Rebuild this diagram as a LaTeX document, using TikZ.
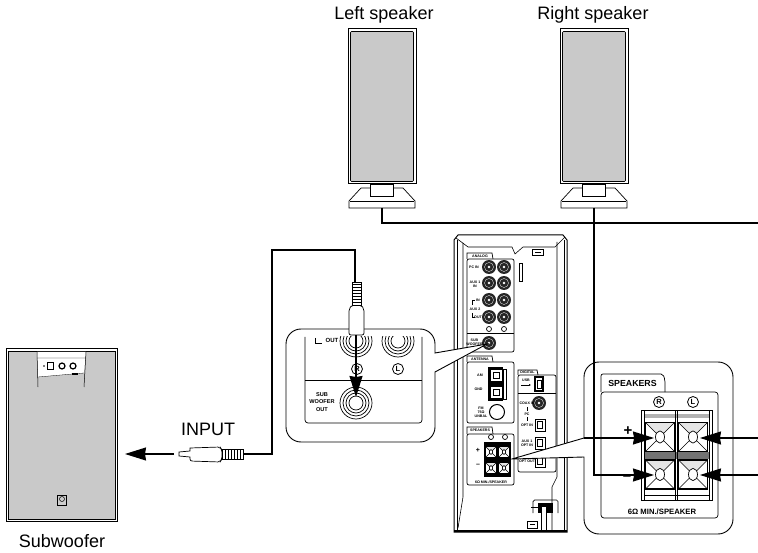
\documentclass[tikz,border=0pt]{standalone}
\usepackage{fontspec}
\setmainfont{Liberation Sans}
\usetikzlibrary{arrows.meta}
\definecolor{panelgray}{gray}{0.79}
\tikzset{
    wire/.style={line width=1.1pt},
    bigtip/.style={-{Stealth[length=21pt,width=13pt,inset=1pt]}},
    label/.style={font=\fontsize{18}{18}\selectfont, inner sep=0pt},
    tinytext/.style={font=\bfseries\fontsize{3.6}{4}\selectfont, inner sep=0pt, align=center},
    smalltext/.style={font=\bfseries\fontsize{5.6}{7.2}\selectfont, inner sep=0pt, align=center},
    outline/.style={line width=0.7pt},
    callout/.style={line width=0.9pt, fill=white},
    circled/.style={draw, circle, line width=0.8pt, minimum size=11pt, inner sep=0pt, font=\bfseries\fontsize{7.5}{7.5}\selectfont},
    cabinet/.style={draw, line width=1pt, fill=white, minimum width=68pt, minimum height=155pt, inner sep=0pt},
    grille/.style={draw, line width=0.6pt, fill=panelgray, rounded corners=1pt, minimum width=63pt, minimum height=150pt, inner sep=0pt}
}
% small socket on the back of the unit
\newcommand{\backjack}[2]{
    \fill[black!85] (#1,#2) circle (7);
    \draw[white, line width=0.3pt] (#1,#2) circle (4.5);
    \fill[white] (#1,#2) circle (1.3);
}
% big socket in the enlarged view
\newcommand{\bigjack}[2]{
    \foreach \r in {16,13,10,7} {\draw[line width=0.7pt] (#1,#2) circle (\r);}
}
% spring terminal: #1,#2 centre, #3 half size
\newcommand{\clipterm}[3]{
    \draw[fill=white, line width=0.5pt] (#1-#3,#2-#3) rectangle (#1+#3,#2+#3);
    \fill[black!10] (#1-#3,#2-#3) -- (#1+#3,#2-#3) -- (#1,#2) -- cycle;
    \draw[line width=0.5pt] (#1-#3,#2-#3) -- (#1+#3,#2+#3) (#1-#3,#2+#3) -- (#1+#3,#2-#3);
    \draw[line width=1.2pt] (#1-#3,#2-#3) rectangle (#1+#3,#2+#3);
    \draw[fill=white, line width=0.7pt] (#1,#2) ellipse (0.31*#3 and 0.42*#3);
}
\newcommand{\optport}[2]{
    \draw[fill=white, line width=0.9pt] (#1-5,#2-6) rectangle (#1+5,#2+6);
    \draw[line width=0.6pt] (#1-2.5,#2-3.5) rectangle (#1+2.5,#2+3.5);
}
\begin{document}
\begin{tikzpicture}[x=1pt,y=-1pt]
    \useasboundingbox (0,0) rectangle (758,553);

    % speakers
    \foreach \name/\xx in {left/382,right/594} {
        \draw[outline, fill=white] (\xx-33,208) -- (\xx-33,201) -- (\xx-21,188) -- (\xx+21,188) -- (\xx+33,201) -- (\xx+33,208) -- cycle;
        \draw[line width=0.4pt] (\xx-32,201) -- (\xx+32,201);
        \draw[outline, fill=white] (\xx-11.5,184) rectangle (\xx+11.5,196);
        \node[cabinet] (\name cab) at (\xx,106.5) {};
        \node[grille] (\name grille) at (\xx,106.5) {};
        \coordinate (\name foot) at (\xx,208);
    }
    \node[label] (lefttext) at (384,14.5) {Left speaker};
    \node[label] (righttext) at (593,14.5) {Right speaker};
    \coordinate (lefttee) at (758,223);
    \draw[wire] (leftfoot) |- (lefttee);

    % subwoofer
    \draw[line width=1pt, fill=white] (6,349) rectangle (117,521);
    \draw[line width=0.7pt, fill=panelgray] (8,351) rectangle (115,519);
    \fill[white] (37,352) -- (86,352) -- (84,373) -- (38,377) -- cycle;
    \draw[line width=0.5pt] (37,352) -- (38,387) (86,352) -- (84,387);
    \draw[line width=0.3pt] (38,377) -- (84,373) (37,358) -- (86,358);
    \draw[line width=1pt, fill=white] (47,363) rectangle (53,369.5);
    \fill (44,366) circle (0.8);
    \foreach \xx in {62,73} {\draw[line width=1.2pt, fill=white] (\xx,366) circle (3);}
    \fill (72,373) rectangle (78,375);
    \draw[line width=0.7pt, fill=white!80!black] (57.5,495) rectangle (66.5,505);
    \draw[line width=0.5pt] (62,499) circle (2.5);
    \node[label] (subtext) at (62,541) {Subwoofer};
    \node[label] (inputtext) at (208,429) {INPUT};

    % cable and lower plug
    \coordinate (plugend) at (243,454);
    \coordinate (upperplug) at (355,282);
    \draw[wire] (plugend) -- (272,454) -- (272,250) -- (355,250) -- (upperplug);
    \draw[line width=0.7pt, fill=white] (179,452) -- (190,451) -- (190,448) [rounded corners=2pt] -- (220,447) -- (222,450) -- (222,459) -- (220,462) -- (190,461) [sharp corners] -- (190,457) -- (179,456) -- cycle;
    \draw[line width=0.7pt, fill=white] (222,449) rectangle (243,459);
    \foreach \xx in {225,228,...,240} {\draw[line width=1pt] (\xx,449.5) -- (\xx,458.5);}
    \coordinate (arrowtail) at (174,454);
    \coordinate (arrowtip) at (125,454);
    \draw[wire, bigtip] (arrowtail) -- (arrowtip);

    % back of the main unit
    \draw[line width=1pt, fill=white] (454,247) -- (454,240) -- (458,235) -- (563,235) -- (567,240) -- (567,532) -- (454,532) -- cycle;
    \draw[line width=0.6pt] (456,238) -- (468,247) -- (512,247) -- (515,254) -- (523,247) -- (555,247) -- (565,237);
    \draw[line width=0.5pt] (457,240) -- (457,530) (564,240) -- (564,530);
    \draw[line width=0.6pt] (463,243) -- (463,497) -- (458,528);
    \draw[line width=0.6pt] (557,242) -- (557,477) -- (552,487) -- (552,530);
    \draw[line width=1.6pt] (454,531) -- (567,531);
    \draw[line width=0.7pt] (532,249) rectangle (543,255);
    \draw[line width=0.7pt] (535,252) -- (541,252);
    \draw[line width=0.7pt] (519,263) rectangle (522,281);

    % analog panel
    \draw[outline, fill=white] (467,259) -- (467,253) -- (492,253) -- (493,259);
    \draw[outline, fill=white, rounded corners=2pt] (467,259) rectangle (514,352);
    \draw[outline] (467,333) -- (514,333);
    \node[tinytext] (analogtext) at (480,256.3) {ANALOG};
    \foreach \yy in {267,283,300,317} {
        \backjack{489}{\yy}
        \backjack{504}{\yy}
    }
    \foreach \xx in {489,504} {\draw[line width=0.7pt] (\xx,329) circle (2.5);}
    \backjack{489}{343}
    \node[tinytext] (pctext) at (474,267) {PC IN};
    \node[tinytext] (auxatext) at (475,284) {AUX 1\\IN};
    \node[tinytext] (auxbtext) at (475,309) {AUX 2};
    \node[tinytext] (intext) at (478,300) {IN};
    \node[tinytext] (outtext) at (478,317) {OUT};
    \draw[line width=0.5pt] (475,300) -- (472,300) -- (472,305) (472,313) -- (472,317) -- (475,317);
    \node[tinytext] (subbacktext) at (474.5,342) {SUB\\WOOFER};

    % antenna panel
    \draw[outline, fill=white] (467,362) -- (467,356) -- (492,356) -- (493,362);
    \draw[outline, fill=white, rounded corners=2pt] (467,362) rectangle (514,423);
    \node[tinytext] (antennatext) at (480,359.3) {ANTENNA};
    \fill (488,367) rectangle (503,401);
    \draw[line width=0.6pt, fill=white] (503,369) rectangle (506,399);
    \foreach \yy in {375.5,392} {
        \draw[fill=white, line width=0.4pt] (490,\yy-6) rectangle (502,\yy+6);
        \draw[line width=0.5pt] (493,\yy-3) rectangle (499,\yy+3);
    }
    \node[tinytext] (amtext) at (480,375) {AM};
    \node[tinytext] (gndtext) at (478.5,389) {GND};
    \node[tinytext] (fmtext) at (481,412) {FM\\75Ω\\UNBAL};
    \draw[line width=1pt] (497,412) circle (7.5);

    % digital panel
    \draw[outline, fill=white] (518,375) -- (518,370) -- (537,370) -- (538,375);
    \draw[outline, fill=white, rounded corners=2pt] (518,375) rectangle (556,472);
    \draw[outline] (518,393) -- (556,393);
    \node[tinytext] (digitaltext) at (527.5,372.6) {DIGITAL};
    \node[tinytext] (usbtext) at (526,380.5) {USB};
    \draw[line width=0.8pt, -{Latex[length=2pt,width=2pt]}] (521,385) -- (531,385);
    \draw[line width=1.4pt, fill=white] (535,377) rectangle (543,391);
    \draw[line width=0.6pt] (537,380) rectangle (541,388);
    \backjack{539}{403}
    \node[tinytext] (coaxtext) at (527,403) {COAX IN};
    \node[tinytext] (pcdigtext) at (527,414) {PC};
    \draw[line width=0.4pt] (527,407) -- (527,411) (527,417) -- (527,421);
    \node[tinytext] (optatext) at (527,425) {OPT IN};
    \node[tinytext] (optbtext) at (527,443) {AUX 1\\OPT IN};
    \node[tinytext] (optctext) at (527,461) {OPT OUT};
    \optport{540}{425}
    \optport{540}{443}
    \optport{540}{461}

    % speaker panel on the unit
    \draw[outline, fill=white] (467,434) -- (467,427) -- (492,427) -- (493,434);
    \draw[outline, fill=white, rounded corners=2pt] (467,434) rectangle (514,485);
    \node[tinytext] (spktabtext) at (480,430.7) {SPEAKERS};
    \foreach \xx in {491,505} {\draw[line width=0.7pt] (\xx,437) circle (2.5);}
    \fill (484,442) rectangle (511,477);
    \foreach \xx/\yy in {491/452,504/452,491/468,504/468} {\clipterm{\xx}{\yy}{5.5}}
    \node[font=\bfseries\fontsize{7}{7}\selectfont, inner sep=0pt] (plusback) at (478,450) {+};
    \node[font=\bfseries\fontsize{7}{7}\selectfont, inner sep=0pt] (minusback) at (478,465) {--};
    \node[tinytext] (ohmback) at (491,482) {6Ω MIN./SPEAKER};

    % power cable holder
    \draw[outline, rounded corners=1.5pt] (533,513) -- (533,500) -- (558,500) -- (558,513);
    \fill (538,503) rectangle (553,513);
    \draw[line width=0.6pt, fill=white] (541,506) rectangle (546,530);
    \draw[line width=0.6pt] (531,507) -- (538,507);
    \draw[outline] (527,521) rectangle (537,528);
    \draw[line width=0.7pt] (530,524.5) -- (535,524.5);

    % enlarged view of the sub woofer socket
    \draw[callout] (487,344) -- (435,353) [rounded corners=15pt] -- (435,329) -- (286,329) -- (286,442) -- (435,442) [sharp corners] -- (435,372) -- cycle;
    \draw[outline, rounded corners=3pt] (305,337) -- (305,423) -- (422,423) -- (422,337);
    \draw[outline] (305,380) -- (422,380);
    \begin{scope}
        \clip (305,337) rectangle (422,358);
        \bigjack{356}{341}
        \bigjack{398}{341}
    \end{scope}
    \bigjack{356}{403}
    \node[smalltext] (suboutext) at (322,402) {SUB\\WOOFER\\OUT};
    \node[font=\bfseries\fontsize{6}{6}\selectfont, inner sep=0pt, anchor=west] (loutext) at (325.5,340.5) {OUT};
    \draw[line width=0.9pt] (315,338) -- (315,343) -- (322,343);
    \node[circled] (rjack) at (357,369) {R};
    \node[circled] (ljack) at (398,369) {L};

    % upper plug into the socket
    \coordinate (pintip) at (356,397);
    \coordinate (plugneck) at (356,335);
    \draw[wire, bigtip] (plugneck) -- (pintip);
    \draw[line width=0.7pt, fill=white, rounded corners=2pt] (352,305) -- (349,309) -- (349,335) -- (364,335) -- (364,309) -- (361,305) -- cycle;
    \draw[line width=0.7pt, fill=white] (352,282) rectangle (361,305);
    \foreach \yy in {285,288,...,303} {\draw[line width=1pt] (352.5,\yy) -- (360.5,\yy);}

    % enlarged view of the speaker terminals
    \draw[callout] (512,459) -- (584,457) [rounded corners=15pt] -- (584,534) -- (733,534) -- (733,362) -- (584,362) [sharp corners] -- (584,438) -- cycle;
    \draw[outline, rounded corners=2pt] (601,392) -- (601,374) -- (663,374) -- (665,380) -- (665,392);
    \draw[outline, rounded corners=3pt] (601,392) rectangle (718,518);
    \node[font=\bfseries\fontsize{8.8}{8.8}\selectfont, inner sep=0pt] (spktext) at (632.5,383) {SPEAKERS};
    \node[circled] (rterm) at (659,402) {R};
    \node[circled] (lterm) at (693,402) {L};
    \draw[line width=1pt, fill=white] (641.5,410) rectangle (712,500);
    \draw[line width=0.6pt] (644,410) -- (644,500) (709,410) -- (709,500) (644,495) -- (709,495);
    \fill[black!30] (644.5,414) rectangle (708.5,418);
    \fill[black!55] (644.5,452) rectangle (708.5,459);
    \draw[line width=0.5pt] (675.5,410) -- (675.5,500) (677.5,410) -- (677.5,500);
    \foreach \xx/\yy in {660/437,693/437,660/474.5,693/474.5} {\clipterm{\xx}{\yy}{14.5}}
    \node[font=\bfseries\fontsize{7.7}{7.7}\selectfont, inner sep=0pt] (ohmtext) at (662,512) {6Ω MIN./SPEAKER};
    \node[font=\bfseries\fontsize{15}{15}\selectfont, inner sep=0pt] (plustext) at (628,431) {+};
    \node[font=\bfseries\fontsize{15}{15}\selectfont, inner sep=0pt] (minustext) at (627,478) {--};

    % speaker wires with their arrows
    \coordinate (wedgetop) at (584,438);
    \coordinate (lplusend) at (758,438);
    \coordinate (lminusend) at (758,475);
    \coordinate (rplustip) at (654,438);
    \coordinate (rminustip) at (654,475);
    \coordinate (lplustip) at (700,438);
    \coordinate (lminustip) at (700,475);
    \draw[wire, bigtip] (rightfoot) |- (rminustip);
    \draw[wire, bigtip] (wedgetop) -- (rplustip);
    \draw[wire, bigtip] (lplusend) -- (lplustip);
    \draw[wire, bigtip] (lminusend) -- (lminustip);
\end{tikzpicture}
\end{document}
